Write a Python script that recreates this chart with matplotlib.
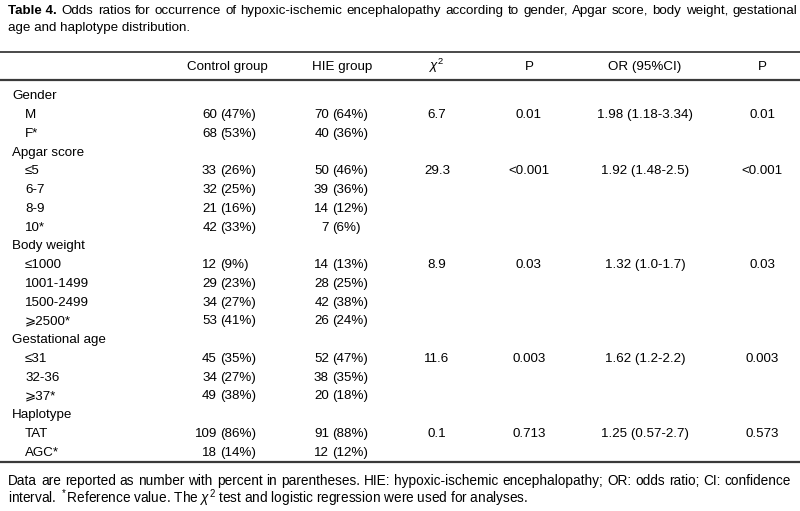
import matplotlib
matplotlib.use("Agg")
import matplotlib.pyplot as plt

plt.rcParams['font.family'] = ['Liberation Sans', 'DejaVu Sans']
plt.rcParams['mathtext.fontset'] = 'custom'
plt.rcParams['mathtext.rm'] = 'Liberation Sans'
plt.rcParams['mathtext.it'] = 'Liberation Sans:italic'

# ---------------- data ----------------
title_bold = "Table 4."
title_line1 = "Odds ratios for occurrence of hypoxic-ischemic encephalopathy according to gender, Apgar score, body weight, gestational"
title_line2 = "age and haplotype distribution."

headers = ["Control group", "HIE group", r"$\chi^2$", "P", "OR (95%CI)", "P"]

groups = ["Gender", "Apgar score", "Body weight", "Gestational age", "Haplotype"]
levels = [
    ["M", "F*"],
    ["\u22645", "6-7", "8-9", "10*"],
    ["\u22641000", "1001-1499", "1500-2499", "\u2a7e2500*"],
    ["\u226431", "32-36", "\u2a7e37*"],
    ["TAT", "AGC*"],
]
control_n = [[60, 68], [33, 32, 21, 42], [12, 29, 34, 53], [45, 34, 49], [109, 18]]
control_pct = [[47, 53], [26, 25, 16, 33], [9, 23, 27, 41], [35, 27, 38], [86, 14]]
hie_n = [[70, 40], [50, 39, 14, 7], [14, 28, 42, 26], [52, 38, 20], [91, 12]]
hie_pct = [[64, 36], [46, 36, 12, 6], [13, 25, 38, 24], [47, 35, 18], [88, 12]]
chi2 = ["6.7", "29.3", "8.9", "11.6", "0.1"]
p_chi2 = ["0.01", "<0.001", "0.03", "0.003", "0.713"]
odds_ratio = ["1.98 (1.18-3.34)", "1.92 (1.48-2.5)", "1.32 (1.0-1.7)", "1.62 (1.2-2.2)", "1.25 (0.57-2.7)"]
p_or = ["0.01", "<0.001", "0.03", "0.003", "0.573"]

footnote1 = ("Data are reported as number with percent in parentheses. HIE: hypoxic-ischemic "
             "encephalopathy; OR: odds ratio; CI: confidence")
footnote2 = r"interval. $^*$Reference value. The $\chi^2$ test and logistic regression were used for analyses."

# ---------------- layout ----------------
W, H = 800, 511
fig = plt.figure(figsize=(W / 100, H / 100), dpi=100)
ax = fig.add_axes([0, 0, 1, 1])
ax.set_xlim(0, W)
ax.set_ylim(H, 0)
ax.axis("off")

fs = 9.6
fs_note = 9.8
BL = 4.3  # baseline offset below row centre (px)
line_col = "#3a3a3a"
r = fig.canvas.get_renderer()


def txt(x, y, s, ha="left", size=fs, **kw):
    return ax.text(x, y + BL, s, fontsize=size, ha=ha, va="baseline", **kw)


def justify(text, x0, x1, y, size):
    words = text.split(" ")
    arts = [txt(0, y, w, size=size) for w in words]
    widths = [a.get_window_extent(r).width for a in arts]
    gap = (x1 - x0 - sum(widths)) / (len(words) - 1)
    x = x0
    for a, w in zip(arts, widths):
        a.set_x(x)
        x += w + gap


# title
t = txt(8, 9.5, title_bold, fontweight="bold")
bb = t.get_window_extent(r)
justify(title_line1, bb.x1 + 5, 797, 9.5, fs)
txt(8, 27, title_line2)

# rules
ax.plot([0, W], [52, 52], color=line_col, lw=1.3, solid_capstyle="butt")
ax.plot([0, W], [80.5, 80.5], color=line_col, lw=1.6, solid_capstyle="butt")
ax.plot([0, W], [462, 462], color=line_col, lw=1.6, solid_capstyle="butt")

# headers
head_x = [227, 342, 437, 529, 645, 762]
for hx, h in zip(head_x, headers):
    txt(hx, 66, h, ha="center")

# body
y0, dy = 95, 18.75
ctrl_num_right, ctrl_paren_left = 217, 220
hie_num_right, hie_paren_left = 329, 332
row = 0
for g, name in enumerate(groups):
    y = y0 + row * dy
    txt(12, y, name)
    row += 1
    for k, lev in enumerate(levels[g]):
        y = y0 + row * dy
        txt(25, y, lev)
        txt(ctrl_num_right, y, str(control_n[g][k]), ha="right")
        txt(ctrl_paren_left, y, f"({control_pct[g][k]}%)")
        txt(hie_num_right, y, str(hie_n[g][k]), ha="right")
        txt(hie_paren_left, y, f"({hie_pct[g][k]}%)")
        if k == 0:
            txt(head_x[2], y, chi2[g], ha="center")
            txt(head_x[3], y, p_chi2[g], ha="center")
            txt(head_x[4], y, odds_ratio[g], ha="center")
            txt(head_x[5], y, p_or[g], ha="center")
        row += 1

# footnote
justify(footnote1, 8, 791, 481, fs_note)
txt(8, 499, footnote2, size=fs_note)

fig.savefig("out.png", dpi=100)
